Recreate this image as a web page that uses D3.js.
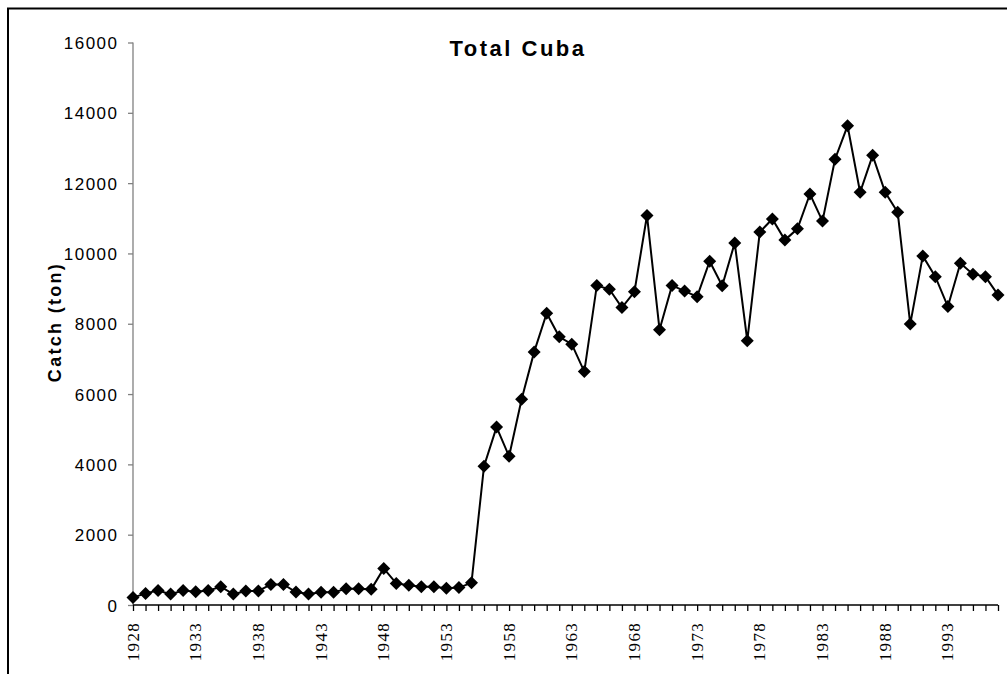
<!DOCTYPE html>
<html><head><meta charset="utf-8">
<script src="https://cdn.jsdelivr.net/npm/d3@7"></script>
<style>html,body{margin:0;padding:0;background:#fff;}svg{display:block;}</style>
</head><body>
<svg id="c" width="1007" height="674"></svg>
<script>
const years = d3.range(1928, 1998);
const catchTon = [
  210, 330, 410, 310, 410, 380, 410, 520, 310, 400,
  400, 585, 585, 370, 310, 360, 360, 460, 460, 445,
  1040, 615, 565, 520, 520, 475, 495, 630, 3950, 5060,
  4230, 5850, 7200, 8300, 7630, 7420, 6640, 9090, 8980, 8460,
  8910, 11080, 7830, 9090, 8930, 8770, 9780, 9080, 10300, 7520,
  10610, 10980, 10380, 10700, 11690, 10920, 12680, 13630, 11740, 12790,
  11740, 11170, 7990, 9930, 9340, 8490, 9720, 9410, 9340, 8820
];
const yTicks = [0, 2000, 4000, 6000, 8000, 10000, 12000, 14000, 16000];
const xLabelYears = [1928, 1933, 1938, 1943, 1948, 1953, 1958, 1963, 1968, 1973, 1978, 1983, 1988, 1993];
const titleText = "Total Cuba";
const yTitle = "Catch (ton)";

const sans = "'Liberation Sans', Arial, sans-serif";
const serif = "'Liberation Serif', 'DejaVu Serif', 'Times New Roman', serif";

const svg = d3.select("#c");
svg.append("rect").attr("x", 8).attr("y", 8.5).attr("width", 1100).attr("height", 800)
  .attr("fill", "none").attr("stroke", "#000").attr("stroke-width", 2);

const x = d3.scaleLinear().domain([1928, 1997]).range([133, 998]);
const y = d3.scaleLinear().domain([0, 16000]).range([605, 42.5]);

// Y axis
const yAxis = svg.append("g").attr("transform", "translate(133,0)")
  .call(d3.axisLeft(y).tickValues(yTicks).tickSize(5).tickPadding(0).tickFormat(d3.format("d")));
yAxis.select(".domain").attr("stroke", "#808080").attr("stroke-width", 1.3).attr("d", `M0,${y(16000)}V${y(0)}`);
yAxis.selectAll(".tick line").attr("stroke", "#808080").attr("stroke-width", 1.3);
yAxis.selectAll(".tick text").attr("x", -14.5).attr("dy", "0.36em")
  .attr("font-family", sans).attr("font-size", 17)
  .attr("letter-spacing", "1.5px").attr("fill", "#000");

// X axis
const xAxis = svg.append("g").attr("transform", "translate(0,605)")
  .call(d3.axisBottom(x).tickValues(years).tickSize(6).tickFormat(""));
xAxis.select(".domain").attr("stroke", "#000").attr("stroke-width", 1.3).attr("d", `M${x(1928)},0H${x(1997)}`);
xAxis.selectAll(".tick line").attr("stroke", "#000").attr("stroke-width", 1.3);

svg.append("g").selectAll("text").data(xLabelYears).join("text")
  .attr("transform", d => `translate(${x(d) + 5.5},622) rotate(-90)`)
  .attr("text-anchor", "end")
  .style("font-family", serif)
  .attr("font-size", 17).attr("letter-spacing", "1.3px").attr("fill", "#000")
  .text(d => d);

// line
const data = years.map((yr, i) => ({ yr, v: catchTon[i] }));
svg.append("path").datum(data)
  .attr("fill", "none").attr("stroke", "#000").attr("stroke-width", 2)
  .attr("d", d3.line().x(d => x(d.yr)).y(d => y(d.v)));

svg.append("g").selectAll("path").data(data).join("path")
  .attr("transform", d => `translate(${x(d.yr)},${y(d.v)})`)
  .attr("d", "M0,-6.5L6.5,0L0,6.5L-6.5,0Z").attr("fill", "#000");

// title
svg.append("text").attr("x", 518).attr("y", 56).attr("text-anchor", "middle")
  .attr("font-family", sans).attr("font-weight", "bold")
  .attr("font-size", 22).attr("letter-spacing", "2.5px").text(titleText);

// y title
svg.append("text").attr("transform", "translate(61,322) rotate(-90)").attr("text-anchor", "middle")
  .attr("font-family", sans).attr("font-weight", "bold")
  .attr("font-size", 18).attr("letter-spacing", "2.3px").text(yTitle);
</script>
</body></html>
